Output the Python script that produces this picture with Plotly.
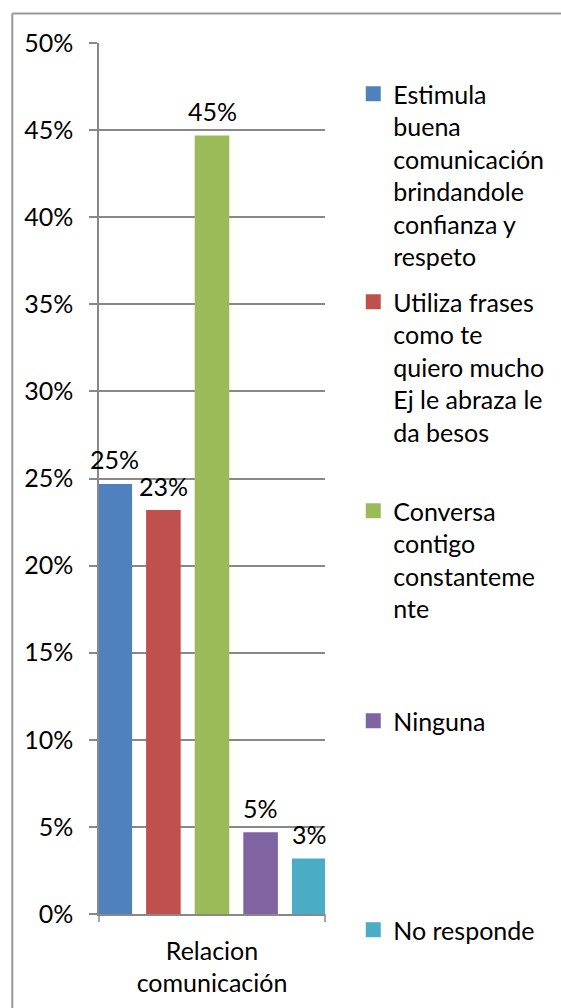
import plotly.graph_objects as go

category = ["Relacion<br>comunicación"]
series_names = [
    "Estimula<br>buena<br>comunicación<br>brindandole<br>confianza y<br>respeto",
    "Utiliza frases<br>como te<br>quiero mucho<br>Ej le abraza le<br>da besos",
    "Conversa<br>contigo<br>constanteme<br>nte",
    "Ninguna",
    "No responde",
]
values = [0.246, 0.231, 0.446, 0.046, 0.031]
colors = ["#4F81BD", "#C0504D", "#9BBB59", "#8064A2", "#4BACC6"]
y_ticks = [0, 0.05, 0.10, 0.15, 0.20, 0.25, 0.30, 0.35, 0.40, 0.45, 0.50]

W, H = 561, 1008
L, R, T, B = 99, 230, 43, 94
PW, PH = W - L - R, H - T - B
FONT = "Lato"
FS = 25
GRID = "#888888"

def px_x(p):
    return (p - L) / PW

def px_y(p):
    return (H - B - p) / PH

legend_ids = ["legend", "legend2", "legend3", "legend4", "legend5"]
legend_first_line = [95, 303, 512, 722, 931]

fig = go.Figure()
for name, v, c, lid in zip(series_names, values, colors, legend_ids):
    fig.add_trace(go.Bar(
        x=category, y=[v], name=name,
        marker=dict(color=c, line=dict(color=c, width=3)),
        legend=lid, hoverinfo="skip",
    ))

# data labels above each bar of the group
n = len(values)
annotations = []
for i, v in enumerate(values):
    annotations.append(dict(
        x=-0.5 + (i + 0.5) / n, y=v, xref="x", yref="y",
        text=f"{v:.0%}", showarrow=False,
        yanchor="bottom", yshift=9,
        font=dict(family=FONT, size=FS, color="black"),
    ))

gap = 0.35
layout_legends = {}
for lid, yc in zip(legend_ids, legend_first_line):
    layout_legends[lid] = dict(
        x=px_x(360), xanchor="left",
        y=px_y(yc - 24), yanchor="top",
        valign="top",
        font=dict(family=FONT, size=FS, color="black"),
        bgcolor="rgba(0,0,0,0)", borderwidth=0,
    )

BORDER = dict(color="#999999", width=2)
fig.update_layout(
    width=W, height=H,
    margin=dict(l=L, r=R, t=T, b=B, pad=0),
    paper_bgcolor="white", plot_bgcolor="white",
    barmode="group", bargap=0, bargroupgap=gap,
    showlegend=True,
    font=dict(family=FONT, size=FS, color="black"),
    annotations=annotations,
    xaxis=dict(
        range=[-0.5 + 0.1 * gap, 0.5 - 0.1 * gap],
        showline=True, linecolor=GRID, linewidth=1.5,
        ticks="", showgrid=False,
        tickfont=dict(family=FONT, size=FS, color="black"),
        ticklabelstandoff=14,
    ),
    yaxis=dict(
        range=[0, 0.5], tickvals=y_ticks, tickformat=".0%",
        showgrid=True, gridcolor=GRID, gridwidth=1.5,
        zeroline=False,
        showline=True, linecolor=GRID, linewidth=1.5,
        ticks="outside", ticklen=8, tickcolor=GRID, tickwidth=1.5,
        tickfont=dict(family=FONT, size=FS, color="black"),
        ticklabelstandoff=11,
    ),
    shapes=[
        # chart-area border (top and left edges visible in the crop)
        dict(type="line", xref="paper", yref="paper",
             x0=px_x(10), x1=px_x(W + 20), y0=px_y(13.5), y1=px_y(13.5),
             line=BORDER, layer="below"),
        dict(type="line", xref="paper", yref="paper",
             x0=px_x(10), x1=px_x(10), y0=px_y(13.5), y1=px_y(H + 20),
             line=BORDER, layer="below"),
        # category-boundary tick marks on the x axis
        dict(type="line", xref="x domain", yref="paper",
             x0=0, x1=0, y0=0, y1=px_y(922),
             line=dict(color=GRID, width=1.5)),
        dict(type="line", xref="x domain", yref="paper",
             x0=1, x1=1, y0=0, y1=px_y(922),
             line=dict(color=GRID, width=1.5)),
    ],
    **layout_legends,
)

fig.write_html("out.html", config={"displayModeBar": False},
               post_script="document.body.style.margin='0';")
